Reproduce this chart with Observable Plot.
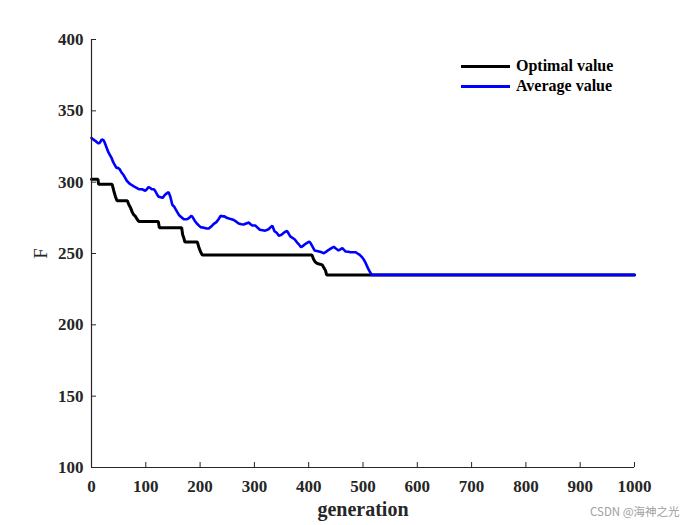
<!DOCTYPE html>
<html>
<head>
<meta charset="utf-8">
<script src="https://cdn.jsdelivr.net/npm/d3@7"></script>
<script src="https://cdn.jsdelivr.net/npm/@observablehq/plot@0.6"></script>
<style>
  body { margin: 0; background: #fff; }
  #wrap { position: relative; width: 700px; height: 525px; }
  #legend { position: absolute; left: 461px; top: 56px; font-family: "Liberation Serif", "Times New Roman", serif; font-weight: bold; font-size: 16px; color: #000; line-height: 20px; }
  #legend .row { display: flex; align-items: center; height: 20px; }
  #legend .sw { width: 49px; height: 3px; margin-right: 6px; }
  #wm { position: absolute; left: 590px; top: 503px; font-family: "Noto Sans CJK SC", "Noto Sans", sans-serif; font-size: 11.5px; color: #a0a0a0; white-space: nowrap; }
  g[aria-label="x-axis label"] text { font-size: 20px; font-weight: bold; }
  g[aria-label="y-axis label"] text { font-size: 19px; font-weight: normal; }
</style>
</head>
<body>
<div id="wrap"></div>
<script>
// ---- data ----
const optGen = [0, 12, 13, 38, 41, 44, 47, 66, 69, 72, 75, 78, 81, 84, 87, 123, 125, 166, 168, 170, 172, 195, 198, 201, 204, 406, 409, 412, 416, 425, 428, 431, 433, 1000];
const optVal = [302, 302, 298.5, 298.5, 294, 290, 287, 287, 284, 282, 279, 277, 276, 274, 272.5, 272.5, 268, 268, 263, 261, 258, 258, 254, 251, 249, 249, 246, 244, 243, 242, 240, 238, 235, 235];

const avgGen = [0, 3, 7, 10, 13, 16, 19, 22, 24, 26, 28, 31, 34, 37, 40, 43, 46, 49, 52, 55, 59, 62, 65, 70, 74, 78, 83, 88, 93, 99, 102, 105, 108, 111, 115, 117, 120, 123, 127, 131, 135, 138, 142, 145, 147, 149, 152, 155, 158, 161, 164, 170, 176, 180, 184, 187, 190, 194, 198, 201, 207, 212, 216, 222, 226, 230, 234, 238, 242, 245, 249, 253, 258, 262, 266, 271, 276, 280, 285, 290, 293, 296, 302, 306, 310, 315, 320, 326, 330, 333, 337, 341, 345, 349, 352, 356, 360, 363, 366, 370, 374, 378, 381, 386, 390, 393, 397, 401, 404, 406, 409, 411, 415, 419, 424, 428, 433, 437, 442, 446, 450, 455, 459, 462, 465, 468, 473, 477, 486, 490, 494, 498, 501, 504, 507, 510, 513, 516, 1000];
const avgVal = [331, 330, 329, 328, 327, 328, 330, 329.5, 328, 326, 324, 321, 319, 317, 314, 312, 310, 310, 309, 307, 305, 303, 301, 299, 298, 297, 296, 295, 295, 294, 295, 296.5, 296, 295, 295, 294, 292, 290, 289.5, 289, 291, 292, 293, 290, 287, 284, 283, 281, 279, 277, 276, 274, 274, 275, 276.5, 275, 273, 271, 269.5, 268.5, 268, 267.5, 267.5, 269.5, 271, 272, 274, 276.5, 276, 276, 275, 274.5, 274, 273.5, 272.5, 271, 270.5, 270.3, 271, 271.7, 270.5, 269.6, 269.6, 268, 266.6, 266.3, 266, 267, 268.5, 269.5, 265.6, 264.5, 262.5, 263, 263.8, 265, 265.9, 264, 262, 261, 260, 258, 256.8, 254.4, 255.5, 256.5, 257.5, 258.4, 257, 255.6, 253.5, 252.1, 251.8, 251.4, 250.8, 250.2, 251.5, 252.6, 253.8, 254.7, 253.5, 252.1, 253, 253.7, 252.5, 251.4, 251.2, 250.9, 250.9, 250, 249, 247.5, 246, 244, 241.5, 239, 237, 235, 235];

const xTicks = [0, 100, 200, 300, 400, 500, 600, 700, 800, 900, 1000];
const yTicks = [100, 150, 200, 250, 300, 350, 400];
const seriesNames = ["Optimal value", "Average value"];
const seriesColors = ["#000000", "#0000ff"];

const opt = optGen.map((g, i) => ({g, v: optVal[i]}));
const avg = avgGen.map((g, i) => ({g, v: avgVal[i]}));
const axisColor = "#262626";

const chart = Plot.plot({
  width: 700,
  height: 525,
  marginLeft: 91,
  marginRight: 66,
  marginTop: 39,
  marginBottom: 58,
  style: {fontFamily: '"Liberation Serif", "Times New Roman", serif', fontSize: "17px", fontWeight: "bold", color: axisColor, background: "#fff", overflow: "visible"},
  x: {domain: [0, 1000]},
  y: {domain: [100, 400]},
  marks: [
    Plot.line(opt, {x: "g", y: "v", stroke: seriesColors[0], strokeWidth: 3, strokeLinejoin: "miter"}),
    Plot.line(avg, {x: "g", y: "v", stroke: seriesColors[1], strokeWidth: 2.6, strokeLinejoin: "miter"}),
    Plot.ruleY([100], {stroke: axisColor, strokeWidth: 1.2}),
    Plot.ruleX([0], {stroke: axisColor, strokeWidth: 1.2}),
    Plot.axisX(xTicks, {tickSize: -5, tickPadding: 17, stroke: axisColor, fill: axisColor, label: "generation", labelAnchor: "center", labelArrow: "none", labelOffset: 48, tickFormat: d => String(d)}),
    Plot.axisY(yTicks, {tickSize: -5, tickPadding: 13, stroke: axisColor, fill: axisColor, label: "F", labelAnchor: "center", labelArrow: "none", labelOffset: 58, tickFormat: d => String(d)})
  ]
});

const wrap = document.getElementById("wrap");
wrap.appendChild(chart);

const legend = document.createElement("div");
legend.id = "legend";
seriesNames.forEach((name, i) => {
  const row = document.createElement("div");
  row.className = "row";
  const sw = document.createElement("div");
  sw.className = "sw";
  sw.style.background = seriesColors[i];
  const t = document.createElement("span");
  t.textContent = name;
  row.appendChild(sw);
  row.appendChild(t);
  legend.appendChild(row);
});
wrap.appendChild(legend);

const wm = document.createElement("div");
wm.id = "wm";
wm.textContent = "CSDN @海神之光";
wrap.appendChild(wm);
</script>
</body>
</html>
